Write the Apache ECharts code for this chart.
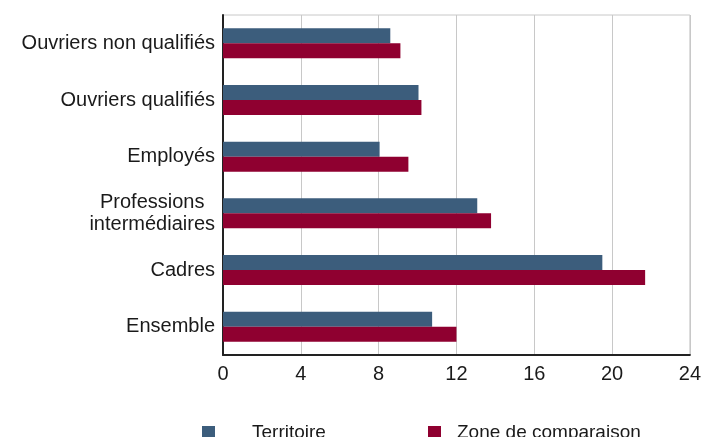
<!DOCTYPE html>
<html><head><meta charset="utf-8">
<script src="https://cdn.jsdelivr.net/npm/echarts@6/dist/echarts.min.js"></script>
<style>html,body{margin:0;padding:0;background:#fff}#c{width:704px;height:437px}</style>
</head><body><div id="c"></div>
<script>
const categories = ["Ouvriers non qualifiés", "Ouvriers qualifiés", "Employés", "Professions\nintermédiaires", "Cadres", "Ensemble"];
const territoire = [8.6, 10.05, 8.05, 13.07, 19.5, 10.75];
const zoneComparaison = [9.12, 10.2, 9.53, 13.78, 21.7, 12.0];
const xTicks = [0, 4, 8, 12, 16, 20, 24];
const seriesNames = ["Territoire", "Zone de comparaison"];
const colors = ["#3c5d7c", "#8f0030"];

const chart = echarts.init(document.getElementById('c'), null, {renderer: 'canvas'});
const legendBase = {top: 423, itemWidth: 13, itemHeight: 13, icon: 'rect', padding: 0};
chart.setOption({
  animation: false,
  textStyle: {fontFamily: 'Liberation Sans, Arial, sans-serif'},
  grid: {left: 223, right: 10, top: 15, bottom: 82, show: true, borderColor: '#c8c8c8', borderWidth: 1},
  legend: [
    Object.assign({}, legendBase, {left: 202, data: [seriesNames[0]], textStyle: {fontSize: 19, color: '#1a1a1a', padding: [0, 0, 0, 32]}}),
    Object.assign({}, legendBase, {left: 428, data: [seriesNames[1]], textStyle: {fontSize: 19, color: '#1a1a1a', padding: [0, 0, 0, 11]}})
  ],
  xAxis: {
    type: 'value', min: xTicks[0], max: xTicks[xTicks.length - 1], interval: 4,
    axisLine: {show: true, lineStyle: {color: '#222', width: 2}},
    axisTick: {show: false},
    splitLine: {show: true, lineStyle: {color: '#c8c8c8', width: 1}},
    axisLabel: {fontSize: 20, color: '#1a1a1a', margin: 9}
  },
  yAxis: {
    type: 'category', data: categories, inverse: true,
    axisLine: {show: true, lineStyle: {color: '#222', width: 2}},
    axisTick: {show: false},
    axisLabel: {
      fontSize: 20, color: '#1a1a1a', margin: 8, lineHeight: 22,
      formatter: function (v) { return v.split('\n').map(s => '{c|' + s + '}').join('\n'); },
      rich: {c: {fontSize: 20, color: '#1a1a1a', align: 'center', lineHeight: 22}}
    }
  },
  series: [
    {name: seriesNames[0], type: 'bar', data: territoire, barWidth: 15, barGap: '0%', itemStyle: {color: colors[0]}},
    {name: seriesNames[1], type: 'bar', data: zoneComparaison, barWidth: 15, barGap: '0%', itemStyle: {color: colors[1]}}
  ]
});
</script></body></html>
